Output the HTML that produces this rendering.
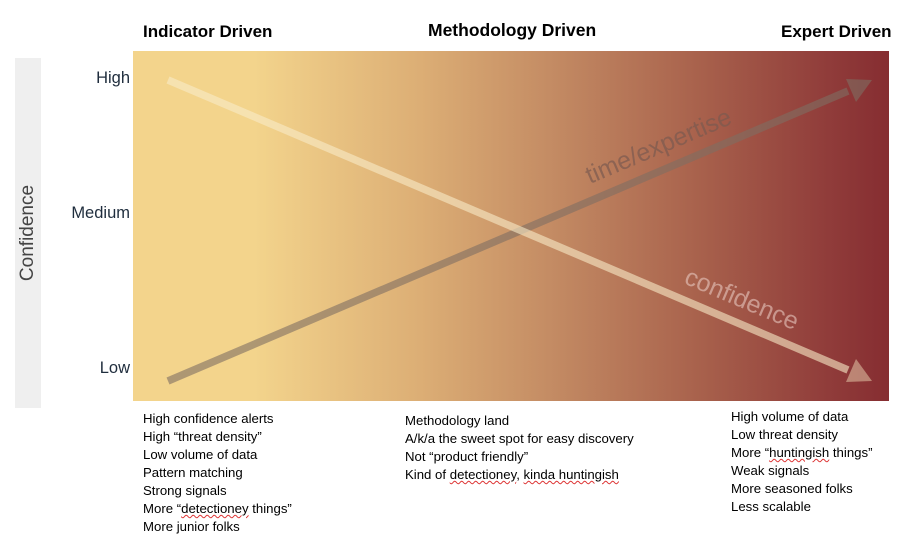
<!DOCTYPE html>
<html><head><style>
body{margin:0;width:914px;height:560px;background:#fff;position:relative;overflow:hidden;font-family:"Liberation Sans",sans-serif;}
.a{position:absolute;white-space:nowrap}
.h{font-weight:bold;font-size:17px;color:#000;top:22px}
.y{font-size:16.5px;color:#1f2d3d;text-align:right;width:100px;left:30px}
.l{font-size:13.2px;line-height:18px;color:#000}
.sq{text-decoration:underline wavy #d33;text-decoration-thickness:1px}
</style></head><body>
<div class="a" style="left:15px;top:58px;width:26px;height:350px;background:#efefef"></div>
<div class="a" style="left:28px;top:233px;transform:translate(-50%,-50%) rotate(-90deg);font-size:19px;color:#444">Confidence</div>
<div class="a h" style="left:143px">Indicator Driven</div>
<div class="a h" style="left:428px;top:20px;font-size:17.5px">Methodology Driven</div>
<div class="a h" style="left:781px">Expert Driven</div>
<div class="a y" style="top:69px">High</div>
<div class="a y" style="top:204px">Medium</div>
<div class="a y" style="top:359px">Low</div>
<svg class="a" style="left:0;top:0" width="914" height="560">
<defs><linearGradient id="g" x1="0" x2="1">
<stop offset="0" stop-color="#f3d48c"/><stop offset="0.16" stop-color="#f3d48c"/>
<stop offset="0.38" stop-color="#dcae75"/><stop offset="0.55" stop-color="#c48c64"/>
<stop offset="0.75" stop-color="#a8614c"/><stop offset="0.92" stop-color="#903c3a"/>
<stop offset="1" stop-color="#862d31"/></linearGradient></defs>
<rect x="133" y="51" width="756" height="350" fill="url(#g)"/>
<line x1="168" y1="381" x2="848" y2="91" stroke="#7f6e62" stroke-opacity="0.6" stroke-width="7.5"/>
<polygon points="872,80 846,79 856,102" fill="#7f6e62" fill-opacity="0.6"/>
<line x1="168" y1="80" x2="848" y2="370" stroke="#f9ebc8" stroke-opacity="0.6" stroke-width="7.5"/>
<polygon points="872,381 856,359 846,382" fill="#f7e6c0" fill-opacity="0.45"/>
<text x="590" y="184" font-family="Liberation Sans" font-size="25" fill="#7a5a50" fill-opacity="0.7" transform="rotate(-23 590 184)">time/expertise</text>
<text x="683" y="283" font-family="Liberation Sans" font-size="25" fill="#e8c8c0" fill-opacity="0.6" transform="rotate(23 683 283)">confidence</text>
</svg>
<div class="a l" style="left:143px;top:410px">High confidence alerts<br>High “threat density”<br>Low volume of data<br>Pattern matching<br>Strong signals<br>More “<span class="sq">detectioney</span> things”<br>More junior folks</div>
<div class="a l" style="left:405px;top:412px">Methodology land<br>A/k/a the sweet spot for easy discovery<br>Not “product friendly”<br>Kind of <span class="sq">detectioney</span>, <span class="sq">kinda huntingish</span></div>
<div class="a l" style="left:731px;top:408px">High volume of data<br>Low threat density<br>More “<span class="sq">huntingish</span> things”<br>Weak signals<br>More seasoned folks<br>Less scalable</div>
</body></html>
